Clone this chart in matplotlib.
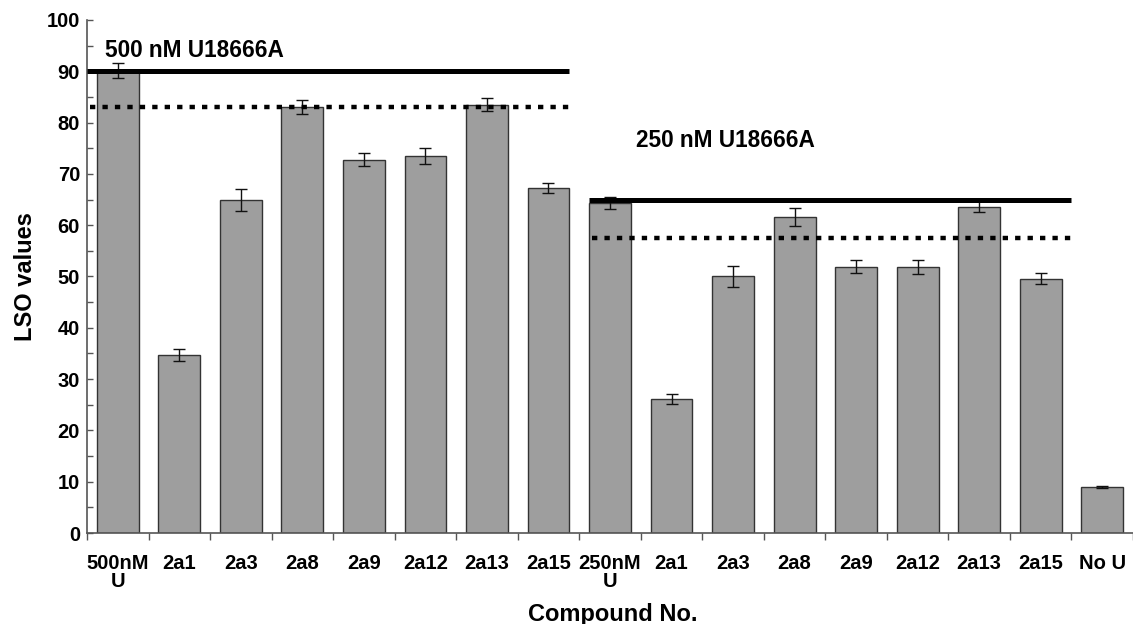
import matplotlib
matplotlib.use("Agg")
import matplotlib.pyplot as plt
import numpy as np
from matplotlib.ticker import FixedLocator, MultipleLocator

plt.rcParams["font.family"] = ["Liberation Sans", "DejaVu Sans"]
plt.rcParams["font.weight"] = "bold"

# Compounds tested with two U18666A doses, plus the untreated control
categories = ["500nM\nU", "2a1", "2a3", "2a8", "2a9", "2a12", "2a13", "2a15",
              "250nM\nU", "2a1", "2a3", "2a8", "2a9", "2a12", "2a13", "2a15",
              "No U"]
lso_values = [90.2, 34.7, 64.9, 83.0, 72.8, 73.5, 83.5, 67.3,
              64.3, 26.1, 50.0, 61.6, 51.9, 51.8, 63.6, 49.6, 8.9]
lso_errors = [1.5, 1.1, 2.1, 1.4, 1.3, 1.5, 1.2, 1.0,
              1.2, 1.0, 2.1, 1.75, 1.3, 1.4, 1.1, 1.0, 0.2]

# Reference levels for each dose group (solid = U alone, dotted = threshold)
dose_labels = ["500 nM U18666A", "250 nM U18666A"]
ref_solid = [90, 65]
ref_dotted = [83, 57.5]

fig = plt.figure(figsize=(11.33, 6.24), dpi=100)
ax = fig.add_axes([0.0768, 0.1458, 0.9232, 0.8222])

x = np.arange(len(categories))
bw = 0.68
ax.bar(x, lso_values, width=bw, color="#9e9e9e", edgecolor="#333333",
       linewidth=1.0, zorder=2)
ax.errorbar(x, lso_values, yerr=lso_errors, fmt="none", ecolor="#111111",
            elinewidth=1.0, capsize=4, capthick=1.0, zorder=3)

# Dose-group reference lines
spans = [(-0.5, 7 + bw / 2), (8 - bw / 2, 15.5)]
dot_style = (0, (1.2, 1.6))
for (x0, x1), ys, yd in zip(spans, ref_solid, ref_dotted):
    ax.plot([x0, x1], [ys, ys], color="black", lw=3.6, solid_capstyle="butt",
            zorder=4)
    ax.plot([x0 + 0.05, x1], [yd, yd], color="black", lw=3.2,
            linestyle=dot_style, dash_capstyle="butt", zorder=4)

ax.text(-0.21, 94.1, dose_labels[0], fontsize=16.3, fontweight="bold",
        ha="left", va="center")
ax.text(8.43, 76.6, dose_labels[1], fontsize=16.3, fontweight="bold",
        ha="left", va="center")

ax.set_xlim(-0.5, len(categories) - 0.5)
ax.set_ylim(0, 100)

# y axis: labelled every 10, minor marks every 5, ticks pointing inward
ax.yaxis.set_major_locator(MultipleLocator(10))
ax.yaxis.set_minor_locator(MultipleLocator(5))
ax.tick_params(axis="y", which="both", direction="in", length=4, width=1,
               color="#555555", labelsize=14.5, pad=5)

# x axis: tick marks at group boundaries, labels at bar centres
ax.set_xticks(x)
ax.set_xticklabels(categories, fontsize=14.5, fontweight="bold",
                   linespacing=0.95)
ax.xaxis.set_minor_locator(FixedLocator(np.arange(-0.5, len(categories), 1.0)))
ax.tick_params(axis="x", which="major", length=0, pad=15)
ax.tick_params(axis="x", which="minor", direction="out", length=5, width=1,
               color="#555555")
for lab in ax.get_yticklabels():
    lab.set_fontweight("bold")

for side in ("top", "right"):
    ax.spines[side].set_visible(False)
for side in ("left", "bottom"):
    ax.spines[side].set_color("#555555")
    ax.spines[side].set_linewidth(1.2)

ax.set_ylabel("LSO values", fontsize=17, fontweight="bold")
ax.yaxis.set_label_coords(-0.048, 0.5)
ax.set_xlabel("Compound No.", fontsize=17, fontweight="bold")
ax.xaxis.set_label_coords(0.503, -0.136)
ax.xaxis.label.set_va("top")

fig.savefig("out.png", dpi=100)
